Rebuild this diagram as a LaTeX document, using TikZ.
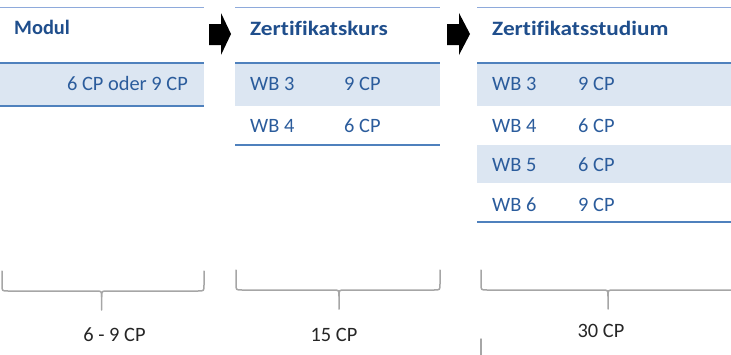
\documentclass[tikz,border=0pt]{standalone}
\usepackage{fontspec}
\setmainfont[Ligatures=CommonOff]{Carlito}
\definecolor{hdr}{HTML}{1F4E8C}
\definecolor{txt}{HTML}{2B5C9C}
\definecolor{rulec}{HTML}{4F81BD}
\definecolor{thinc}{HTML}{8EAADB}
\definecolor{shadec}{HTML}{DCE6F2}
\definecolor{bracec}{HTML}{A6A6A6}
\begin{document}
\begin{tikzpicture}[x=1pt,y=-1pt,
  hd/.style={font=\fontsize{20.4}{24}\selectfont\bfseries, text=hdr, anchor=base west, inner sep=0},
  widehd/.style={hd, xscale=1.14},
  cell/.style={font=\fontsize{20.4}{24}\selectfont, text=txt, anchor=base west, inner sep=0},
  total/.style={font=\fontsize{20.4}{24}\selectfont, text=black!85, anchor=base, inner sep=0},
  thinrule/.style={draw=thinc, line width=1pt},
  thickrule/.style={draw=rulec, line width=2.5pt},
  shaded/.style={fill=shadec},
  brc/.style={draw=bracec, line width=1.5pt, line cap=round},
  blockarrow/.style={fill=black}]
\useasboundingbox (0,0) rectangle (731,354);

% shaded rows
\fill[shaded] (0,64) rectangle (204,106);
\fill[shaded] (235,64) rectangle (440,106);
\fill[shaded] (477,64) rectangle (731,106);
\fill[shaded] (477,145) rectangle (731,183);

% rules
\draw[thinrule] (0,7) -- (204,7);
\draw[thinrule] (235,7) -- (440,7);
\draw[thinrule] (477,7) -- (731,7);
\draw[thickrule] (0,63) -- (204,63);
\draw[thickrule] (235,63) -- (440,63);
\draw[thickrule] (477,63) -- (731,63);
\draw[thickrule] (0,106) -- (204,106);
\draw[thickrule] (235,145) -- (440,145);
\draw[thickrule] (477,222) -- (731,222);

% block arrows
\fill[blockarrow] (209,24) -- (221,24) -- (221,13) -- (231,34) -- (221,55) -- (221,45) -- (209,45) -- cycle;
\fill[blockarrow] (447,24) -- (459,24) -- (459,13) -- (470,34) -- (459,55) -- (459,45) -- (447,45) -- cycle;

% table 1
\node[hd] (h1) at (14,34) {Modul};
\node[cell, anchor=base east] (m1) at (188,90) {6 CP oder 9 CP};

% table 2
\node[widehd] (h2) at (250,35) {Zertifikatskurs};
\node[cell] (k1a) at (250,90) {WB 3};
\node[cell] (k1b) at (344,90) {9 CP};
\node[cell] (k2a) at (250,132) {WB 4};
\node[cell] (k2b) at (344,132) {6 CP};

% table 3
\node[widehd] (h3) at (492,35) {Zertifikatsstudium};
\node[cell] (s1a) at (492,90) {WB 3};
\node[cell] (s1b) at (578,90) {9 CP};
\node[cell] (s2a) at (492,132) {WB 4};
\node[cell] (s2b) at (578,132) {6 CP};
\node[cell] (s3a) at (492,171) {WB 5};
\node[cell] (s3b) at (578,171) {6 CP};
\node[cell] (s4a) at (492,211) {WB 6};
\node[cell] (s4b) at (578,211) {9 CP};

% braces
\draw[brc] (2,271) -- (2,285) .. controls (2,291) .. (8,291) -- (95.6,291) .. controls (101.6,291) .. (101.6,297) -- (101.6,310);
\draw[brc] (101.6,297) .. controls (101.6,291) .. (107.6,291) -- (198,291) .. controls (204,291) .. (204,285) -- (204,271);
\draw[brc] (236,270) -- (236,284) .. controls (236,290) .. (242,290) -- (333,290) .. controls (339,290) .. (339,296) -- (339,309);
\draw[brc] (339,296) .. controls (339,290) .. (345,290) -- (434,290) .. controls (440,290) .. (440,284) -- (440,270);
\draw[brc] (481,270) -- (481,284) .. controls (481,290) .. (487,290) -- (602,290) .. controls (608,290) .. (608,296) -- (608,309);
\draw[brc] (608,296) .. controls (608,290) .. (614,290) -- (735,290);
\draw[brc] (481,339) -- (481,356);

% totals
\node[total] (t1) at (114.5,341) {6 - 9 CP};
\node[total] (t2) at (334,341) {15 CP};
\node[total] (t3) at (601,337) {30 CP};
\end{tikzpicture}
\end{document}
